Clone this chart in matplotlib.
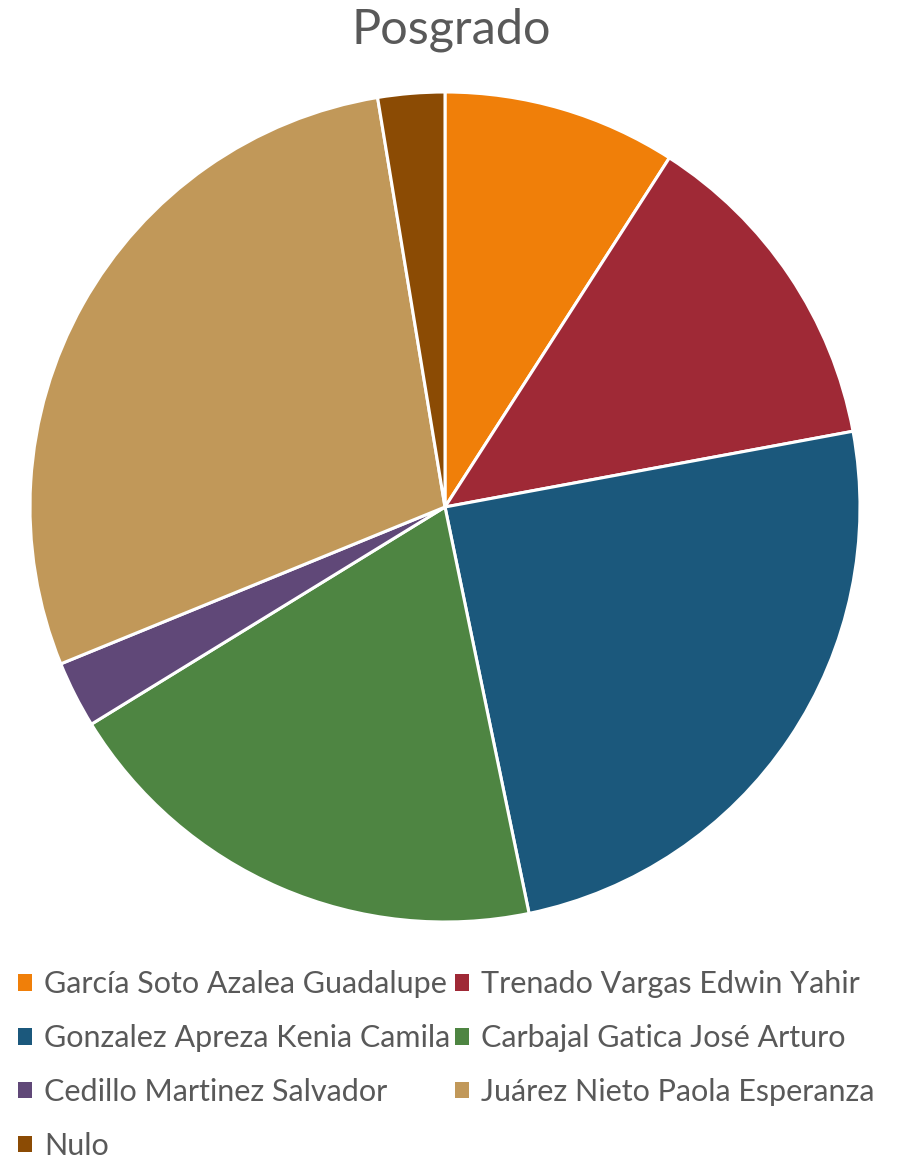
import matplotlib.pyplot as plt

plt.rcParams['font.family'] = ['Lato', 'DejaVu Sans']

# Datos
candidatos = ['García Soto Azalea Guadalupe', 'Trenado Vargas Edwin Yahir',
              'Gonzalez Apreza Kenia Camila', 'Carbajal Gatica José Arturo',
              'Cedillo Martinez Salvador', 'Juárez Nieto Paola Esperanza', 'Nulo']
votos = [7, 10, 19, 15, 2, 22, 2]
colores = ['#F07F09', '#9F2936', '#1B587C', '#4E8542', '#604878', '#C19859', '#8B4B04']

gris = '#595959'

fig = plt.figure(figsize=(9.03, 11.59), dpi=100)
ax = fig.add_axes([30/903, 237/1159, 830/903, 830/1159])

wedges, _ = ax.pie(votos, colors=colores, startangle=90, counterclock=False,
                   radius=1, wedgeprops=dict(edgecolor='white', linewidth=2.2))
ax.set_xlim(-1, 1)
ax.set_ylim(-1, 1)
ax.set_aspect('equal')
ax.axis('off')

fig.text(0.5, 1 - 30/1159, 'Posgrado', ha='center', va='center', fontsize=35, color=gris)

# la leyenda se llena por filas en el original
orden = [0, 2, 4, 6, 1, 3, 5]
leg = fig.legend([wedges[i] for i in orden], [candidatos[i] for i in orden],
                 ncol=2, loc='upper left', bbox_to_anchor=(6/903, 1 - 958/1159),
                 frameon=False, fontsize=22, handlelength=0.45, handleheight=0.45,
                 handletextpad=0.4, columnspacing=0.15, labelspacing=0.85,
                 labelcolor=gris, borderaxespad=0)
for h in leg.legend_handles:
    h.set_edgecolor('none')

fig.savefig('out.png', dpi=100)
